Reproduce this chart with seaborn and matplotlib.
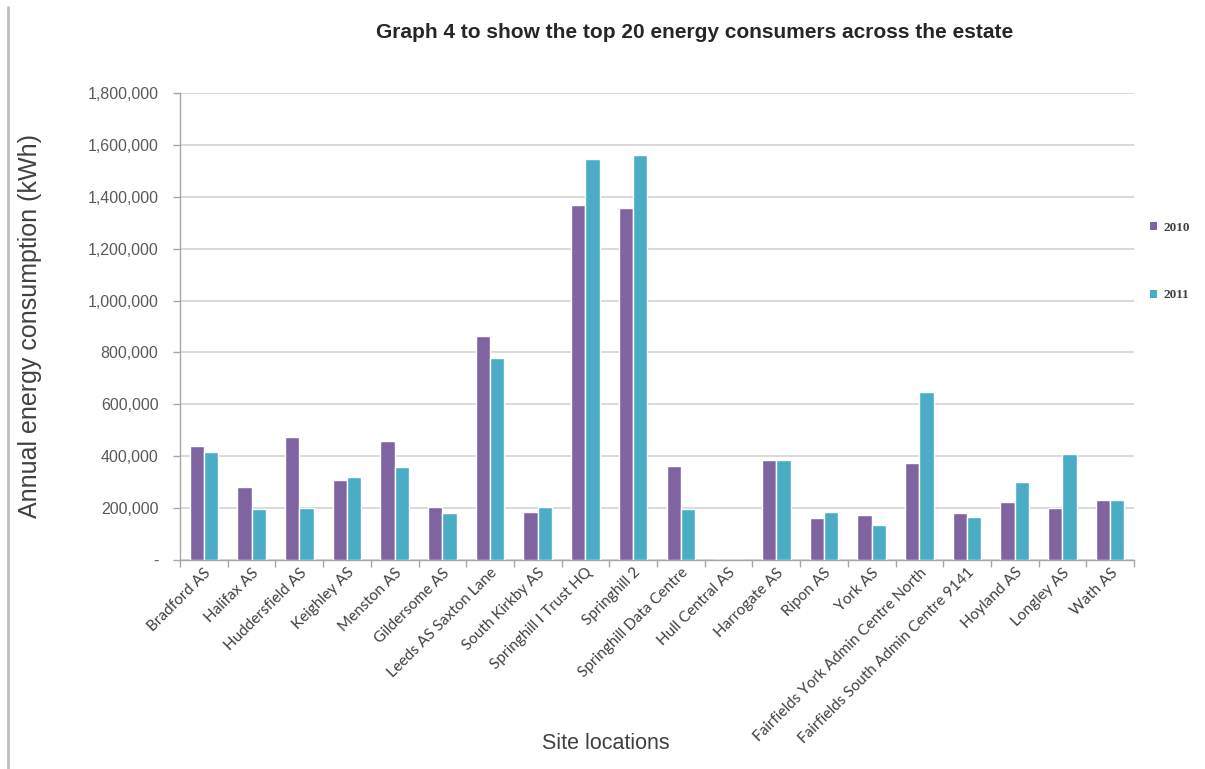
import matplotlib
matplotlib.use("Agg")
import matplotlib.pyplot as plt
from matplotlib.lines import Line2D
from matplotlib.patches import Patch
from matplotlib.ticker import FuncFormatter, FixedLocator
import numpy as np
import pandas as pd
import seaborn as sns

sites = [
    "Bradford AS", "Halifax AS", "Huddersfield AS", "Keighley AS", "Menston AS",
    "Gildersome AS", "Leeds AS Saxton Lane", "South Kirkby AS",
    "Springhill I Trust HQ", "Springhill 2", "Springhill Data Centre",
    "Hull Central AS", "Harrogate AS", "Ripon AS", "York AS",
    "Fairfields York Admin Centre North", "Fairfields South Admin Centre 9141",
    "Hoyland AS", "Longley AS", "Wath AS",
]
kwh_2010 = [438000, 280000, 473000, 310000, 460000, 205000, 865000, 185000,
            1367000, 1358000, 362000, 0, 385000, 160000, 172000, 372000,
            180000, 225000, 200000, 230000]
kwh_2011 = [415000, 195000, 200000, 318000, 358000, 180000, 780000, 205000,
            1545000, 1562000, 198000, 0, 385000, 185000, 133000, 648000,
            165000, 300000, 410000, 230000]
years = ["2010", "2011"]
colors = {"2010": "#8064A2", "2011": "#4BACC6"}

df = pd.DataFrame({
    "site": sites * 2,
    "kwh": kwh_2010 + kwh_2011,
    "year": [years[0]] * len(sites) + [years[1]] * len(sites),
})

sns.set_theme(style="white")
plt.rcParams["font.family"] = ["Liberation Sans", "DejaVu Sans"]

fig = plt.figure(figsize=(12.05, 7.69), dpi=100)
ax = fig.add_axes([180 / 1205, 1 - 560 / 769, 954 / 1205, 467 / 769])

sns.barplot(data=df, x="site", y="kwh", hue="year", palette=colors,
            width=0.6, saturation=1, errorbar=None, legend=False, ax=ax,
            zorder=3)

ax.set_ylim(0, 1800000)
ax.set_xlim(-0.5, len(sites) - 0.5)
ax.set_yticks(np.arange(0, 1800001, 200000))
ax.yaxis.set_major_formatter(FuncFormatter(lambda v, p: "-" if v == 0 else f"{v:,.0f}"))
ax.yaxis.grid(True, color="#d0d0d0", linewidth=1.1, zorder=0)
ax.set_axisbelow(True)

for s in ["top", "right"]:
    ax.spines[s].set_visible(False)
for s in ["left", "bottom"]:
    ax.spines[s].set_color("#a6a6a6")
    ax.spines[s].set_linewidth(1.0)

ax.tick_params(axis="y", which="major", left=True, length=5, width=1,
               color="#a6a6a6", labelsize=11.5, labelcolor="#595959", pad=10.5)
ax.tick_params(axis="x", which="major", bottom=False, length=0, pad=4)
ax.xaxis.set_minor_locator(FixedLocator(np.arange(-0.5, len(sites), 1.0)))
ax.tick_params(axis="x", which="minor", bottom=True, length=5, width=1,
               color="#a6a6a6")

ax.set_xticks(range(len(sites)))
ax.set_xticklabels(sites, rotation=45, ha="right", rotation_mode="anchor",
                   fontsize=11, color="#404040", family=["Lato", "DejaVu Sans"])

ax.set_xlabel("Site locations", fontsize=15.5, color="#404040")
ax.set_ylabel("Annual energy consumption (kWh)", fontsize=18, color="#404040")
ax.xaxis.set_label_coords((606 - 180) / 954, (560 - 733) / 467)
ax.yaxis.set_label_coords(-0.145, 0.5)

fig.text(695 / 1205, 1 - 33 / 769,
         "Graph 4 to show the top 20 energy consumers across the estate",
         ha="center", va="center", fontsize=15, fontweight="bold",
         color="#262626")

handles = [Patch(facecolor=colors[y], edgecolor="none") for y in years]
fig.legend(handles, years, loc="upper left",
           bbox_to_anchor=(1150 / 1205, 1 - 222 / 769), frameon=False,
           handlelength=0.55, handleheight=0.55, handletextpad=0.5,
           labelspacing=4.2, borderpad=0, borderaxespad=0,
           prop={"family": ["Liberation Serif", "DejaVu Serif"], "size": 9.5,
                 "weight": "bold"}, labelcolor="#404040")

# thin grey frame edge on the left
fig.add_artist(Line2D([8 / 1205, 8 / 1205], [0, 1 - 7 / 769],
                      transform=fig.transFigure, color="#bfbfbf", linewidth=2))

fig.savefig("out.png", dpi=100, facecolor="white")
